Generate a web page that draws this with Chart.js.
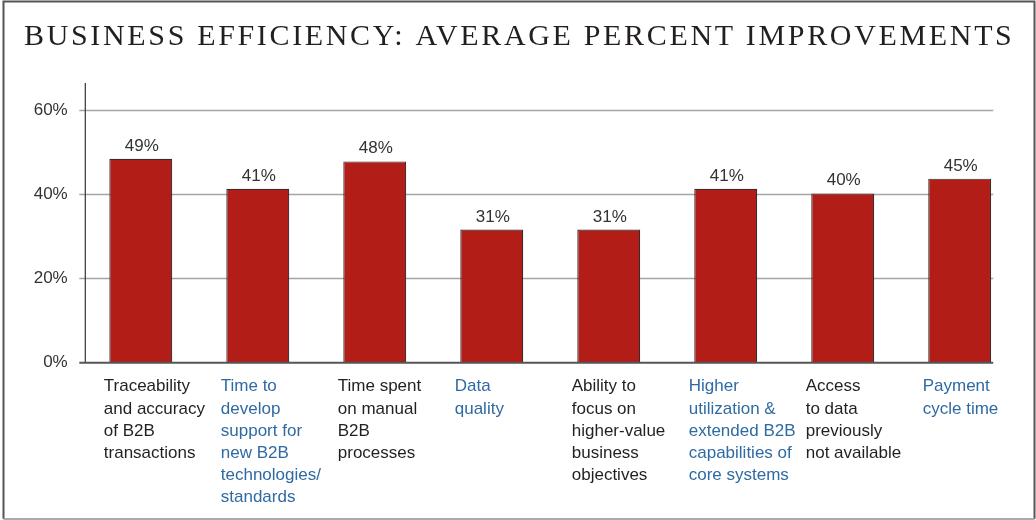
<!DOCTYPE html>
<html>
<head>
<meta charset="utf-8">
<script src="https://cdn.jsdelivr.net/npm/chart.js@4.4.1/dist/chart.umd.min.js"></script>
<style>
  html, body { margin: 0; padding: 0; background: #fff; }
  #wrap { width: 1036px; height: 520px; }
</style>
</head>
<body>
<div id="wrap"><canvas id="myChart" width="1036" height="520"></canvas></div>
<script>
// data
const titleText = "BUSINESS EFFICIENCY: AVERAGE PERCENT IMPROVEMENTS";
const categories = [
  ["Traceability", "and accuracy", "of B2B", "transactions"],
  ["Time to", "develop", "support for", "new B2B", "technologies/", "standards"],
  ["Time spent", "on manual", "B2B", "processes"],
  ["Data", "quality"],
  ["Ability to", "focus on", "higher-value", "business", "objectives"],
  ["Higher", "utilization &", "extended B2B", "capabilities of", "core systems"],
  ["Access", "to data", "previously", "not available"],
  ["Payment", "cycle time"]
];
// bar heights as drawn, and the numbers printed above them
const barValues = [48.4, 41.3, 47.8, 31.6, 31.6, 41.3, 40.2, 43.7];
const valueLabels = ["49%", "41%", "48%", "31%", "31%", "41%", "40%", "45%"];
const yTicks = [0, 20, 40, 60];

const sans = "'Liberation Sans', Arial, sans-serif";
const dark = "#231f20";
const blue = "#2f6aa3";

// frame, title, grid and axis lines
const decor = {
  id: "decor",
  beforeDraw(chart) {
    const ctx = chart.ctx;
    ctx.save();
    ctx.fillStyle = "#fff";
    ctx.fillRect(0, 0, chart.width, chart.height);

    // outer frame
    ctx.strokeStyle = "#555";
    ctx.lineWidth = 2;
    ctx.beginPath();
    ctx.moveTo(3.5, 519);
    ctx.lineTo(3.5, 1.5);
    ctx.lineTo(1034.5, 1.5);
    ctx.lineTo(1034.5, 519);
    ctx.stroke();
    ctx.strokeStyle = "#aaa";
    ctx.beginPath();
    ctx.moveTo(3.5, 519);
    ctx.lineTo(1034.5, 519);
    ctx.stroke();

    // title, stretched to the same width as the original
    ctx.font = "30px 'Liberation Serif', 'Times New Roman', serif";
    ctx.fillStyle = dark;
    ctx.textBaseline = "alphabetic";
    ctx.textAlign = "left";
    const w = ctx.measureText(titleText).width;
    const spacing = (988 - w) / (titleText.length - 1);
    ctx.letterSpacing = spacing.toFixed(2) + "px";
    ctx.fillText(titleText, 24, 44.5);
    ctx.restore();
  },
  beforeDatasetsDraw(chart) {
    const ctx = chart.ctx;
    const area = chart.chartArea;
    const y = chart.scales.y;
    const left = area.left - 3;
    const right = area.right - 25;
    ctx.save();
    ctx.strokeStyle = "#a5a5a5";
    ctx.lineWidth = 1.3;
    yTicks.forEach((t) => {
      if (t === 0) return;
      const py = Math.round(y.getPixelForValue(t)) + 0.5;
      ctx.beginPath();
      ctx.moveTo(left, py);
      ctx.lineTo(right, py);
      ctx.stroke();
    });
    // y axis line
    ctx.strokeStyle = "#333";
    ctx.lineWidth = 1.2;
    ctx.beginPath();
    ctx.moveTo(area.left + 3, 83);
    ctx.lineTo(area.left + 3, area.bottom);
    ctx.stroke();
    ctx.restore();
  },
  afterDatasetsDraw(chart) {
    const ctx = chart.ctx;
    const area = chart.chartArea;
    const meta = chart.getDatasetMeta(0);
    ctx.save();
    // base line
    ctx.strokeStyle = "#555";
    ctx.lineWidth = 2;
    ctx.beginPath();
    ctx.moveTo(area.left - 3, area.bottom);
    ctx.lineTo(area.right - 25, area.bottom);
    ctx.stroke();

    // value labels above the bars
    ctx.font = "17px " + sans;
    ctx.fillStyle = "#333";
    ctx.textAlign = "center";
    ctx.textBaseline = "alphabetic";
    meta.data.forEach((bar, i) => {
      ctx.fillText(valueLabels[i], bar.x + 1, bar.y - 8);
    });
    ctx.restore();
  }
};

const ctx = document.getElementById("myChart").getContext("2d");
const chart = new Chart(ctx, {
  type: "bar",
  data: {
    labels: categories,
    datasets: [
      {
        data: barValues,
        backgroundColor: "#b21d18",
        borderColor: "#3a2c2c",
        borderWidth: 1.2,
        barPercentage: 0.538,
        categoryPercentage: 1
      }
    ]
  },
  options: {
    responsive: false,
    animation: false,
    devicePixelRatio: 1,
    layout: { padding: { top: 110, left: 0, right: 17.8, bottom: 0 } },
    plugins: {
      legend: { display: false },
      title: { display: false },
      tooltip: { enabled: false }
    },
    scales: {
      x: {
        offset: true,
        grid: { display: false, drawTicks: false },
        border: { display: false },
        ticks: {
          autoSkip: false,
          maxRotation: 0,
          align: "start",
          labelOffset: -37,
          padding: 13,
          font: { family: sans, size: 17, lineHeight: 1.3 },
          color: (c) => (c.index % 2 ? blue : dark)
        },
        afterFit: (s) => {
          s.height = 157.3;
          s.paddingLeft = 0;
          s.paddingRight = 0;
        }
      },
      y: {
        min: 0,
        max: 60,
        grid: { display: false, drawTicks: false },
        border: { display: false },
        ticks: {
          stepSize: 20,
          padding: 14.6,
          font: { family: sans, size: 17 },
          color: "#333",
          callback: (v) => v + "%"
        },
        afterFit: (s) => {
          s.width = 82.3;
        }
      }
    }
  },
  plugins: [decor]
});
</script>
</body>
</html>
